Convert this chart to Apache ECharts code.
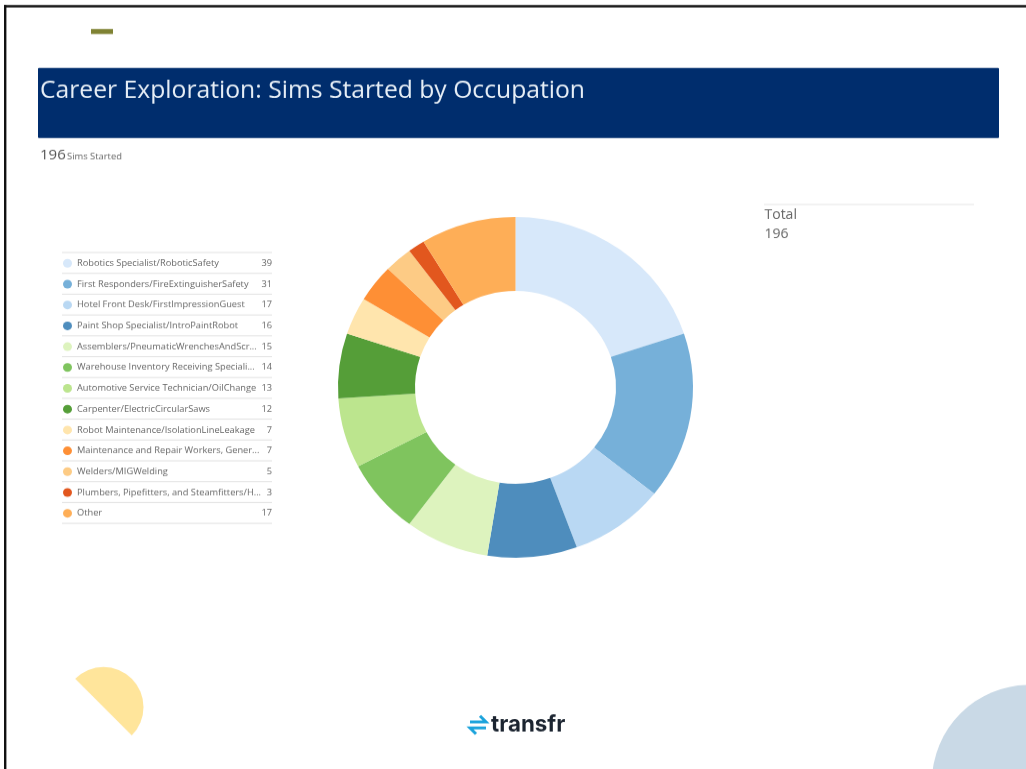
<!DOCTYPE html>
<html><head><meta charset="utf-8">
<style>html,body{margin:0;padding:0;background:#fff;overflow:hidden}#w{width:1026px;height:769px;overflow:hidden}#c{width:1026px;height:801px;transform:scaleY(0.96);transform-origin:0 0}</style>
<script src="https://cdn.jsdelivr.net/npm/echarts@6/dist/echarts.min.js"></script>
</head><body><div id="w"><div id="c"></div></div>
<script>
const categories = ["Robotics Specialist/RoboticSafety","First Responders/FireExtinguisherSafety","Hotel Front Desk/FirstImpressionGuest","Paint Shop Specialist/IntroPaintRobot","Assemblers/PneumaticWrenchesAndScr...","Warehouse Inventory Receiving Speciali...","Automotive Service Technician/OilChange","Carpenter/ElectricCircularSaws","Robot Maintenance/IsolationLineLeakage","Maintenance and Repair Workers, Gener...","Welders/MIGWelding","Plumbers, Pipefitters, and Steamfitters/H...","Other"];
const sims = [39,31,17,16,15,14,13,12,7,7,5,3,17];
const colors = ["#D7E8FA","#76B0D9","#B9D8F3","#4E8DBD","#DDF3BE","#7FC45E","#BCE58E","#559E38","#FFE5AD","#FE8F35","#FDCB85","#E2571E","#FEAE57"];
const totalLabel = "Total";
const totalValue = "196";
const subLabel = "Sims Started";
const titleText = "Career Exploration: Sims Started by Occupation";
const logoText = "transfr";

const font = '"Open Sans", sans-serif';
const SY = 0.96;
const Y = v => v / SY;
const valueByName = {};
categories.forEach((c,i)=>valueByName[c]=sims[i]);

const gfx = [
  {type:'rect',shape:{x:4,y:Y(5),width:1022,height:Y(2.4)},style:{fill:'#111'},silent:true},
  {type:'rect',shape:{x:4,y:Y(5),width:2.4,height:Y(764)},style:{fill:'#111'},silent:true},
  {type:'rect',shape:{x:91,y:Y(29),width:22,height:Y(5)},style:{fill:'#7F8233'},silent:true},
  {type:'rect',z:-1,shape:{x:38,y:Y(68),width:961,height:Y(70),r:1},style:{fill:'#002D6D'},silent:true},
  {type:'text',style:{x:40,y:Y(155.5),text:totalValue,font:'15px '+font,fill:'#555',verticalAlign:'middle'}},
  {type:'text',style:{x:67,y:Y(157),text:subLabel,font:'9.4px '+font,fill:'#666',verticalAlign:'middle'}},
  {type:'line',shape:{x1:764,y1:Y(204.5),x2:974,y2:Y(204.5)},style:{stroke:'#E6E6E6',lineWidth:1}},
  {type:'text',style:{x:764.5,y:Y(215.5),text:totalLabel,font:'14px '+font,fill:'#666',verticalAlign:'middle'}},
  {type:'text',style:{x:764.5,y:Y(234),text:totalValue,font:'14px '+font,fill:'#666',verticalAlign:'middle'}},
  {type:'sector',x:103.5,y:Y(707),scaleY:1/SY,shape:{cx:0,cy:0,r0:0,r:40,startAngle:-Math.PI*0.75,endAngle:Math.PI*0.25},style:{fill:'#FFE59B'},silent:true},
  {type:'circle',x:1029,y:Y(782),scaleY:1/SY,shape:{cx:0,cy:0,r:97},style:{fill:'#C9D9E6'},silent:true},
  {type:'polyline',shape:{points:[[470,Y(722)],[486,Y(722)],[480,Y(716)]]},style:{stroke:'#1BA3DC',fill:'none',lineWidth:3}},
  {type:'polyline',shape:{points:[[486,Y(728)],[470,Y(728)],[476,Y(734)]]},style:{stroke:'#1BA3DC',fill:'none',lineWidth:3}},
  {type:'text',x:491,y:Y(725),scaleX:0.93,style:{x:0,y:0,text:logoText,font:'bold 24px Inter, sans-serif',fill:'#1B2430',verticalAlign:'middle'}}
];
for(let i=0;i<=categories.length;i++){
  const y=Y(252.5+i*20.83);
  gfx.push({type:'line',shape:{x1:62,y1:y,x2:272,y2:y},style:{stroke:'#E2E2E2',lineWidth:1},silent:true});
}

const chart = echarts.init(document.getElementById('c'),null,{renderer:'canvas'});
chart.setOption({
  animation:false,
  backgroundColor:'#fff',
  title:{text:titleText,left:40,top:Y(79),padding:0,textStyle:{fontFamily:font,fontSize:24.7,fontWeight:'normal',color:'#E6EEF6'}},
  legend:{
    orient:'vertical',left:63,top:Y(259),padding:0,itemWidth:9,itemHeight:9,itemGap:21.7-9,icon:'circle',
    selectedMode:false,
    data:categories,
    formatter:n=>'{n|'+n+'}{v|'+valueByName[n]+'}',
    textStyle:{rich:{
      n:{fontFamily:font,fontSize:9.25,color:'#666',width:183,lineHeight:12},
      v:{fontFamily:font,fontSize:9.25,color:'#666',width:12,align:'right',lineHeight:12}
    }}
  },
  series:[{
    type:'pie',center:[515.5,Y(387.4)],radius:[100.5,177.5],startAngle:90,clockwise:true,
    label:{show:false},labelLine:{show:false},silent:true,
    itemStyle:{borderWidth:0},
    data:categories.map((c,i)=>({name:c,value:sims[i],itemStyle:{color:colors[i]}}))
  }],
  graphic:gfx
});
</script></body></html>
